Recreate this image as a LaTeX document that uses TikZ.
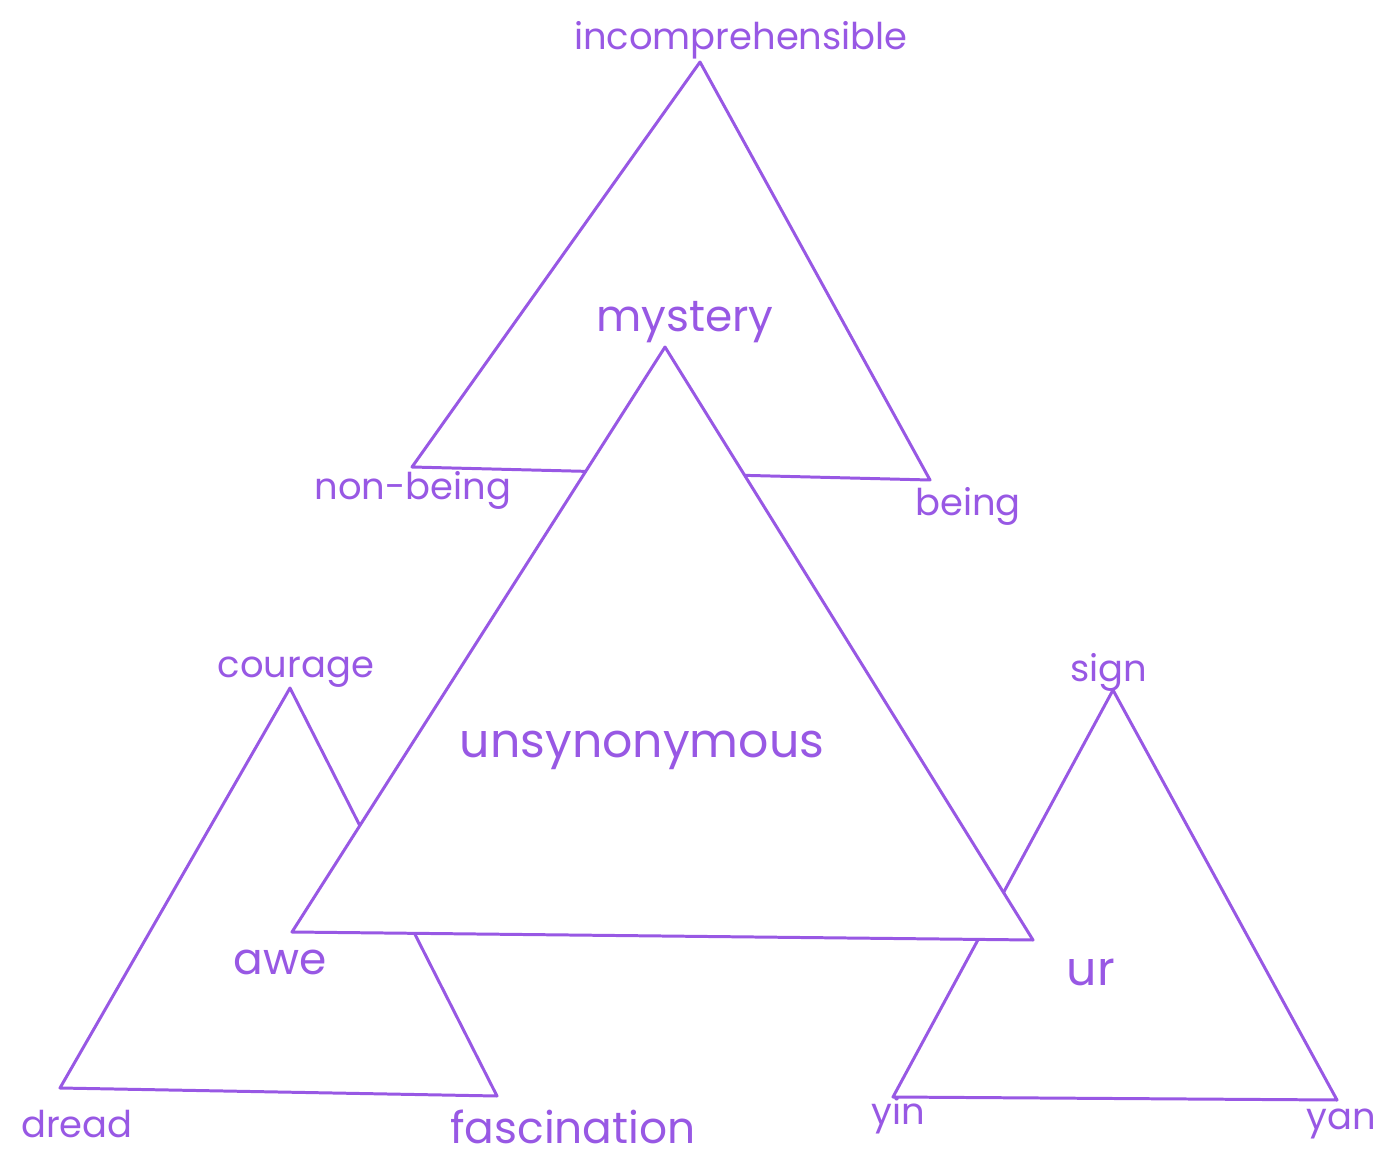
\documentclass[tikz,border=0pt]{standalone}
\usepackage{fontspec}
\setmainfont{Poppins}
\usepackage{xcolor}
\usepackage{tikz}
\definecolor{pencil}{RGB}{152,88,228}

\begin{document}
\begin{tikzpicture}[x=0.02cm,y=-0.02cm,font=\fontsize{21}{24}\selectfont,
		tri/.style={draw=pencil,line width=1.7pt,line join=round},
		lbl/.style={text=pencil,inner sep=0pt},
		midlbl/.style={lbl,font=\fontsize{25}{28}\selectfont},
		biglbl/.style={lbl,font=\fontsize{27}{30}\selectfont}]
		\useasboundingbox (0,0) rectangle (1386,1159);
		% corners of the triangles
		\coordinate (topA) at (700,62);
		\coordinate (topL) at (412,467);
		\coordinate (topR) at (930,480);
		\coordinate (lftA) at (290,688);
		\coordinate (lftL) at (60,1088);
		\coordinate (lftR) at (497,1096);
		\coordinate (rgtA) at (1113,690);
		\coordinate (rgtL) at (893,1097);
		\coordinate (rgtR) at (1337,1100);
		\coordinate (midA) at (665,347);
		\coordinate (midL) at (292,932);
		\coordinate (midR) at (1033,940);
		\draw[tri] (topA) -- (topL) -- (topR) -- cycle;
		\draw[tri] (lftA) -- (lftL) -- (lftR) -- cycle;
		\draw[tri] (rgtA) -- (rgtL) -- (rgtR) -- cycle;
		% the middle one hides what lies behind it
		\filldraw[tri,fill=white] (midA) -- (midL) -- (midR) -- cycle;
		\node[lbl] (incomp)  at (741,40)   {incomprehensible};
		\node[lbl] (nonbeing) at (413,490) {non-being};
		\node[lbl] (being)   at (968,506)  {being};
		\node[midlbl] (mystery) at (685,322) {mystery};
		\node[biglbl] (unsyn) at (642,750) {unsynonymous};
		\node[lbl] (courage) at (296,672)  {courage};
		\node[midlbl] (awe)  at (280,962)  {awe};
		\node[lbl] (dread)   at (77,1124)  {dread};
		\node[midlbl] (fasc) at (573,1127) {fascination};
		\node[lbl] (sign)    at (1109,672) {sign};
		\node[biglbl] (ur)   at (1091,972) {ur};
		\node[lbl] (yin)     at (898,1115) {yin};
		\node[lbl] (yan)     at (1341,1124) {yan};
	\end{tikzpicture}
\end{document}
